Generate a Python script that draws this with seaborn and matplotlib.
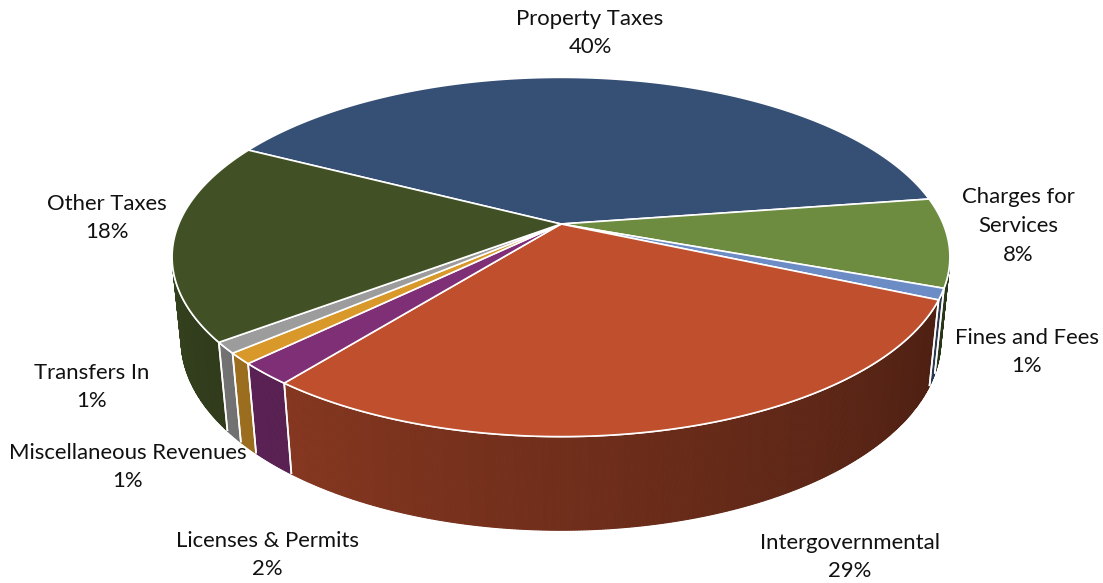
import numpy as np
import matplotlib
matplotlib.use("Agg")
import matplotlib.pyplot as plt
import seaborn as sns
from matplotlib.patches import Polygon
from matplotlib.colors import to_rgb

# Revenue sources (clockwise from the first slice) and their shares in percent
categories = ["Property Taxes", "Charges for\nServices", "Fines and Fees",
              "Intergovernmental", "Licenses & Permits", "Miscellaneous Revenues",
              "Transfers In", "Other Taxes"]
values = [40, 8, 1, 29, 2, 1, 1, 18]
colors = ["#354F75", "#6E8C3F", "#6C8CC6", "#C04F2E",
          "#7F2F76", "#D8982A", "#9C9C9C", "#415125"]

# Label anchor points (pixel space)
label_pos = [(590, 33), (1018, 226), (1027, 352), (850, 557),
             (267, 555), (128, 467), (92, 387), (107, 218)]

sns.set_theme(style="white")
plt.rcParams["font.family"] = ["Lato", "DejaVu Sans"]

W, H = 1103, 583
fig = plt.figure(figsize=(W / 100, H / 100), dpi=100)
ax = fig.add_axes([0, 0, 1, 1])
ax.set_xlim(0, W)
ax.set_ylim(H, 0)
ax.axis("off")

# Perspective camera for a tilted 3D disc
elev = np.deg2rad(27.0)
dist = 4.85
scale = 1854.0
cx, cy = 561.0, 224.0
thick = 0.245
ce, se = np.cos(elev), np.sin(elev)


def project(x, y, z):
    depth = y * ce - z * se + dist
    up = y * se + z * ce
    return cx + scale * x / depth, cy - scale * up / depth


def visible(phi):
    return -1.0 - dist * ce * np.sin(phi) > 0


def shade(phi_deg):
    p = np.mod(phi_deg, 360.0)
    t = np.clip((p - 193.0) / 154.0, 0, 1)
    return 0.80 - 0.43 * t


start_cw = -62.5  # degrees clockwise from 12 o'clock
fracs = np.array(values, dtype=float) / np.sum(values)
bounds = start_cw + np.concatenate([[0], np.cumsum(fracs)]) * 360.0

# Side walls first
for i, col in enumerate(colors):
    a0, a1 = bounds[i], bounds[i + 1]
    n = max(int((a1 - a0) * 3), 4)
    cw = np.linspace(a0, a1, n + 1)
    phi = np.deg2rad(90.0 - cw)
    base = np.array(to_rgb(col))
    for k in range(n):
        pm = 0.5 * (phi[k] + phi[k + 1])
        if not visible(pm):
            continue
        pts = [project(np.cos(phi[k]), np.sin(phi[k]), 0),
               project(np.cos(phi[k + 1]), np.sin(phi[k + 1]), 0),
               project(np.cos(phi[k + 1]), np.sin(phi[k + 1]), -thick),
               project(np.cos(phi[k]), np.sin(phi[k]), -thick)]
        c = base * shade(np.rad2deg(pm))
        ax.add_patch(Polygon(pts, closed=True, facecolor=c, edgecolor=c,
                             linewidth=0.8, zorder=1))
    # white seams on the wall at slice boundaries
    for b in (phi[0], phi[-1]):
        if visible(b):
            p0 = project(np.cos(b), np.sin(b), 0)
            p1 = project(np.cos(b), np.sin(b), -thick)
            ax.plot([p0[0], p1[0]], [p0[1], p1[1]], color="white", lw=1.2,
                    zorder=2, solid_capstyle="butt")

# Rim line where the wall meets the top
rim = np.deg2rad(np.linspace(0, 360, 721))
vis = visible(rim)
rx, ry = project(np.cos(rim), np.sin(rim), 0)
rx = np.where(vis, rx, np.nan)
ry = np.where(vis, ry, np.nan)
ax.plot(rx, ry, color="white", lw=1.2, zorder=2)

# Top faces
for i, col in enumerate(colors):
    a0, a1 = bounds[i], bounds[i + 1]
    n = max(int((a1 - a0) * 3), 4)
    phi = np.deg2rad(90.0 - np.linspace(a0, a1, n + 1))
    px, py = project(np.cos(phi), np.sin(phi), 0 * phi)
    pts = [project(0, 0, 0)] + list(zip(px, py))
    ax.add_patch(Polygon(pts, closed=True, facecolor=col, edgecolor="white",
                         linewidth=1.2, joinstyle="round", zorder=3))

# Data labels
for name, v, (lx, ly) in zip(categories, values, label_pos):
    ax.text(lx, ly, f"{name}\n{v}%", ha="center", va="center",
            fontsize=15.9, color="#111111", linespacing=1.55, zorder=5)

fig.savefig("out.png", dpi=100, facecolor="white")
